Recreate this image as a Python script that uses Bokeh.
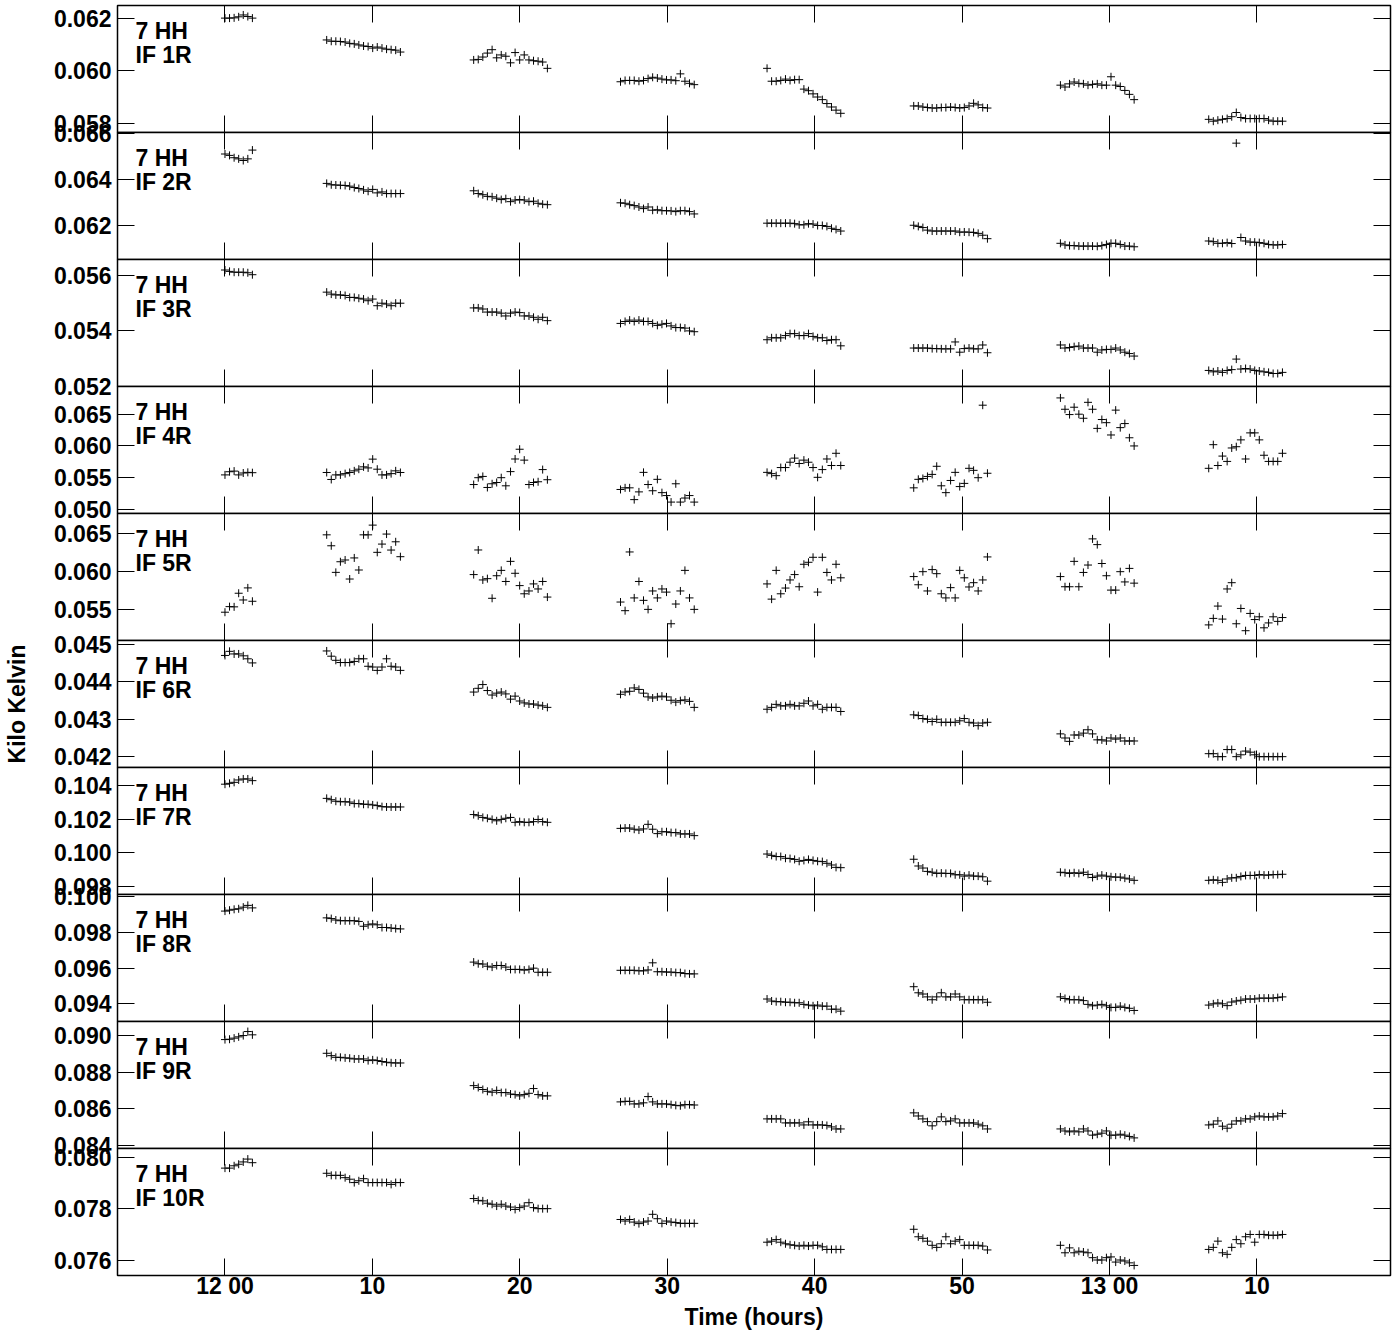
from bokeh.plotting import figure
from bokeh.models import Range1d, FixedTicker, PrintfTickFormatter, LinearAxis, Label
from bokeh.layouts import column
from bokeh.embed import file_html
from bokeh.resources import INLINE

# ---------------- data (time in minutes after 12:00) ----------------
SCAN1 = [0.00, 0.31, 0.62, 0.93, 1.24, 1.55, 1.86]
SCAN2 = [6.90, 7.21, 7.52, 7.83, 8.15, 8.46, 8.77, 9.08, 9.40, 9.71, 10.02, 10.33, 10.65, 10.96, 11.27, 11.58, 11.90]
SCAN3 = [16.87, 17.18, 17.49, 17.80, 18.12, 18.43, 18.74, 19.05, 19.37, 19.68, 19.99, 20.30, 20.62, 20.93, 21.24, 21.55, 21.87]
SCAN4 = [26.83, 27.14, 27.45, 27.76, 28.08, 28.39, 28.70, 29.01, 29.33, 29.64, 29.95, 30.26, 30.58, 30.89, 31.20, 31.51, 31.83]
SCAN5 = [36.77, 37.08, 37.39, 37.70, 38.02, 38.33, 38.64, 38.95, 39.27, 39.58, 39.89, 40.20, 40.52, 40.83, 41.14, 41.45, 41.77]
SCAN6 = [46.72, 47.03, 47.34, 47.65, 47.97, 48.28, 48.59, 48.90, 49.22, 49.53, 49.84, 50.15, 50.47, 50.78, 51.09, 51.40, 51.72]
SCAN7 = [56.67, 56.98, 57.29, 57.60, 57.92, 58.23, 58.54, 58.85, 59.17, 59.48, 59.79, 60.10, 60.42, 60.73, 61.04, 61.35, 61.67]
SCAN8 = [66.73, 67.04, 67.35, 67.66, 67.98, 68.29, 68.60, 68.91, 69.23, 69.54, 69.85, 70.16, 70.48, 70.79, 71.10, 71.41, 71.73]

IF1_R = [
    [0.06200, 0.06200, 0.06201, 0.06205, 0.06212, 0.06206, 0.06200],
    [0.06117, 0.06112, 0.06112, 0.06111, 0.06109, 0.06104, 0.06102, 0.06098, 0.06094, 0.06092, 0.06086, 0.06090, 0.06086, 0.06082, 0.06080, 0.06078, 0.06071],
    [0.06041, 0.06043, 0.06052, 0.06067, 0.06080, 0.06049, 0.06060, 0.06055, 0.06030, 0.06069, 0.06041, 0.06060, 0.06041, 0.06038, 0.06036, 0.06033, 0.06009],
    [0.05958, 0.05963, 0.05963, 0.05963, 0.05960, 0.05963, 0.05970, 0.05975, 0.05972, 0.05968, 0.05965, 0.05965, 0.05962, 0.05988, 0.05960, 0.05952, 0.05947],
    [0.06009, 0.05960, 0.05960, 0.05963, 0.05968, 0.05963, 0.05966, 0.05966, 0.05930, 0.05924, 0.05912, 0.05900, 0.05890, 0.05875, 0.05862, 0.05850, 0.05838],
    [0.05866, 0.05866, 0.05862, 0.05860, 0.05858, 0.05858, 0.05860, 0.05860, 0.05862, 0.05860, 0.05858, 0.05860, 0.05866, 0.05876, 0.05870, 0.05860, 0.05858],
    [0.05945, 0.05938, 0.05950, 0.05957, 0.05952, 0.05950, 0.05945, 0.05948, 0.05950, 0.05945, 0.05945, 0.05977, 0.05945, 0.05940, 0.05925, 0.05910, 0.05890],
    [0.05815, 0.05808, 0.05812, 0.05815, 0.05818, 0.05825, 0.05841, 0.05822, 0.05818, 0.05818, 0.05818, 0.05818, 0.05818, 0.05812, 0.05808, 0.05808, 0.05808],
]
IF2_R = [
    [0.06511, 0.06505, 0.06495, 0.06490, 0.06483, 0.06490, 0.06528],
    [0.06384, 0.06378, 0.06377, 0.06376, 0.06375, 0.06372, 0.06366, 0.06362, 0.06356, 0.06350, 0.06358, 0.06343, 0.06347, 0.06340, 0.06340, 0.06340, 0.06340],
    [0.06352, 0.06340, 0.06335, 0.06328, 0.06326, 0.06320, 0.06314, 0.06318, 0.06305, 0.06312, 0.06314, 0.06312, 0.06305, 0.06307, 0.06298, 0.06294, 0.06292],
    [0.06300, 0.06298, 0.06292, 0.06288, 0.06282, 0.06275, 0.06282, 0.06268, 0.06270, 0.06266, 0.06266, 0.06265, 0.06262, 0.06266, 0.06266, 0.06262, 0.06252],
    [0.06212, 0.06212, 0.06212, 0.06212, 0.06212, 0.06212, 0.06210, 0.06205, 0.06205, 0.06210, 0.06208, 0.06202, 0.06202, 0.06198, 0.06190, 0.06185, 0.06178],
    [0.06203, 0.06198, 0.06193, 0.06182, 0.06178, 0.06178, 0.06178, 0.06178, 0.06178, 0.06178, 0.06173, 0.06174, 0.06173, 0.06172, 0.06168, 0.06160, 0.06145],
    [0.06125, 0.06118, 0.06115, 0.06115, 0.06113, 0.06113, 0.06113, 0.06113, 0.06112, 0.06115, 0.06120, 0.06125, 0.06125, 0.06120, 0.06113, 0.06113, 0.06110],
    [0.06135, 0.06132, 0.06125, 0.06125, 0.06128, 0.06124, 0.06558, 0.06150, 0.06135, 0.06130, 0.06130, 0.06128, 0.06125, 0.06120, 0.06118, 0.06118, 0.06120],
]
IF3_R = [
    [0.05620, 0.05615, 0.05612, 0.05612, 0.05612, 0.05610, 0.05603],
    [0.05540, 0.05533, 0.05530, 0.05530, 0.05528, 0.05521, 0.05521, 0.05518, 0.05515, 0.05509, 0.05515, 0.05491, 0.05500, 0.05497, 0.05491, 0.05500, 0.05500],
    [0.05483, 0.05483, 0.05479, 0.05468, 0.05468, 0.05468, 0.05464, 0.05454, 0.05464, 0.05468, 0.05466, 0.05454, 0.05454, 0.05449, 0.05442, 0.05449, 0.05437],
    [0.05427, 0.05434, 0.05439, 0.05434, 0.05439, 0.05434, 0.05434, 0.05427, 0.05420, 0.05424, 0.05427, 0.05418, 0.05412, 0.05412, 0.05410, 0.05400, 0.05397],
    [0.05368, 0.05375, 0.05375, 0.05375, 0.05383, 0.05390, 0.05390, 0.05383, 0.05383, 0.05390, 0.05380, 0.05375, 0.05375, 0.05365, 0.05368, 0.05368, 0.05346],
    [0.05338, 0.05338, 0.05338, 0.05338, 0.05336, 0.05336, 0.05335, 0.05335, 0.05335, 0.05360, 0.05323, 0.05336, 0.05338, 0.05335, 0.05335, 0.05349, 0.05321],
    [0.05349, 0.05338, 0.05340, 0.05343, 0.05345, 0.05338, 0.05338, 0.05338, 0.05323, 0.05331, 0.05333, 0.05333, 0.05338, 0.05331, 0.05323, 0.05318, 0.05309],
    [0.05257, 0.05252, 0.05255, 0.05250, 0.05257, 0.05260, 0.05298, 0.05262, 0.05264, 0.05262, 0.05257, 0.05255, 0.05252, 0.05250, 0.05246, 0.05246, 0.05250],
]
IF4_R = [
    [0.05540, 0.05590, 0.05600, 0.05540, 0.05570, 0.05580, 0.05575],
    [0.05578, 0.05468, 0.05540, 0.05540, 0.05560, 0.05578, 0.05604, 0.05630, 0.05667, 0.05650, 0.05789, 0.05630, 0.05540, 0.05540, 0.05560, 0.05604, 0.05578],
    [0.05388, 0.05496, 0.05516, 0.05342, 0.05400, 0.05420, 0.05496, 0.05368, 0.05592, 0.05791, 0.05945, 0.05773, 0.05388, 0.05420, 0.05432, 0.05624, 0.05464],
    [0.05310, 0.05336, 0.05336, 0.05150, 0.05272, 0.05580, 0.05388, 0.05290, 0.05470, 0.05260, 0.05214, 0.05111, 0.05400, 0.05111, 0.05175, 0.05214, 0.05111],
    [0.05580, 0.05560, 0.05528, 0.05656, 0.05656, 0.05740, 0.05805, 0.05720, 0.05773, 0.05740, 0.05656, 0.05502, 0.05624, 0.05791, 0.05688, 0.05881, 0.05688],
    [0.05336, 0.05470, 0.05484, 0.05516, 0.05548, 0.05676, 0.05368, 0.05260, 0.05452, 0.05580, 0.05356, 0.05406, 0.05644, 0.05612, 0.05496, 0.06640, 0.05566],
    [0.06755, 0.06576, 0.06492, 0.06608, 0.06498, 0.06434, 0.06685, 0.06576, 0.06274, 0.06414, 0.06364, 0.06170, 0.06562, 0.06286, 0.06350, 0.06126, 0.05997],
    [0.05644, 0.06017, 0.05688, 0.05837, 0.05753, 0.05965, 0.05985, 0.06093, 0.05791, 0.06203, 0.06203, 0.06093, 0.05850, 0.05753, 0.05753, 0.05753, 0.05881],
]
IF5_R = [
    [0.05470, 0.05543, 0.05540, 0.05718, 0.05630, 0.05788, 0.05613],
    [0.06482, 0.06339, 0.05991, 0.06130, 0.06153, 0.05904, 0.06180, 0.06022, 0.06482, 0.06482, 0.06609, 0.06253, 0.06361, 0.06492, 0.06283, 0.06391, 0.06196],
    [0.05962, 0.06284, 0.05892, 0.05909, 0.05652, 0.05947, 0.06017, 0.05872, 0.06135, 0.05979, 0.05818, 0.05711, 0.05748, 0.05840, 0.05774, 0.05872, 0.05668],
    [0.05603, 0.05490, 0.06258, 0.05657, 0.05872, 0.05625, 0.05507, 0.05748, 0.05657, 0.05774, 0.05733, 0.05319, 0.05577, 0.05748, 0.06017, 0.05657, 0.05507],
    [0.05840, 0.05641, 0.06017, 0.05711, 0.05786, 0.05892, 0.05962, 0.05803, 0.06097, 0.06123, 0.06188, 0.05733, 0.06188, 0.05990, 0.05892, 0.06097, 0.05920],
    [0.05936, 0.05829, 0.06000, 0.05748, 0.06027, 0.05974, 0.05711, 0.05657, 0.05791, 0.05657, 0.06017, 0.05920, 0.05800, 0.05856, 0.05748, 0.05892, 0.06193],
    [0.05936, 0.05803, 0.05803, 0.06135, 0.05803, 0.05990, 0.06087, 0.06429, 0.06354, 0.06107, 0.05947, 0.05759, 0.05759, 0.06000, 0.05866, 0.06043, 0.05850],
    [0.05304, 0.05389, 0.05550, 0.05380, 0.05774, 0.05856, 0.05319, 0.05519, 0.05228, 0.05454, 0.05374, 0.05410, 0.05266, 0.05330, 0.05410, 0.05350, 0.05400],
]
IF6_R = [
    [0.04471, 0.04482, 0.04475, 0.04475, 0.04470, 0.04462, 0.04451],
    [0.04483, 0.04469, 0.04458, 0.04452, 0.04452, 0.04452, 0.04455, 0.04462, 0.04462, 0.04442, 0.04440, 0.04431, 0.04440, 0.04462, 0.04442, 0.04440, 0.04431],
    [0.04373, 0.04383, 0.04393, 0.04377, 0.04365, 0.04370, 0.04373, 0.04368, 0.04354, 0.04362, 0.04349, 0.04344, 0.04341, 0.04341, 0.04338, 0.04336, 0.04332],
    [0.04367, 0.04373, 0.04375, 0.04384, 0.04380, 0.04370, 0.04360, 0.04357, 0.04360, 0.04362, 0.04360, 0.04351, 0.04346, 0.04350, 0.04352, 0.04348, 0.04332],
    [0.04327, 0.04332, 0.04340, 0.04336, 0.04336, 0.04340, 0.04336, 0.04336, 0.04343, 0.04349, 0.04336, 0.04340, 0.04327, 0.04332, 0.04332, 0.04332, 0.04321],
    [0.04312, 0.04310, 0.04302, 0.04300, 0.04294, 0.04300, 0.04292, 0.04292, 0.04292, 0.04292, 0.04296, 0.04302, 0.04292, 0.04290, 0.04283, 0.04290, 0.04292],
    [0.04261, 0.04250, 0.04241, 0.04258, 0.04258, 0.04263, 0.04272, 0.04261, 0.04245, 0.04245, 0.04242, 0.04250, 0.04247, 0.04250, 0.04242, 0.04242, 0.04242],
    [0.04208, 0.04208, 0.04200, 0.04200, 0.04219, 0.04219, 0.04200, 0.04205, 0.04215, 0.04212, 0.04205, 0.04200, 0.04200, 0.04200, 0.04200, 0.04200, 0.04200],
]
IF7_R = [
    [0.10407, 0.10412, 0.10418, 0.10432, 0.10438, 0.10438, 0.10428],
    [0.10323, 0.10315, 0.10306, 0.10303, 0.10303, 0.10301, 0.10292, 0.10292, 0.10288, 0.10288, 0.10284, 0.10280, 0.10274, 0.10272, 0.10272, 0.10272, 0.10272],
    [0.10227, 0.10220, 0.10210, 0.10205, 0.10198, 0.10190, 0.10198, 0.10205, 0.10210, 0.10181, 0.10185, 0.10181, 0.10181, 0.10185, 0.10198, 0.10185, 0.10181],
    [0.10145, 0.10147, 0.10147, 0.10140, 0.10135, 0.10142, 0.10169, 0.10140, 0.10114, 0.10125, 0.10125, 0.10120, 0.10120, 0.10112, 0.10112, 0.10112, 0.10102],
    [0.09993, 0.09985, 0.09978, 0.09978, 0.09968, 0.09966, 0.09961, 0.09950, 0.09955, 0.09961, 0.09955, 0.09950, 0.09948, 0.09938, 0.09928, 0.09914, 0.09912],
    [0.09962, 0.09922, 0.09910, 0.09890, 0.09885, 0.09878, 0.09880, 0.09878, 0.09878, 0.09870, 0.09870, 0.09862, 0.09868, 0.09862, 0.09862, 0.09858, 0.09832],
    [0.09885, 0.09882, 0.09878, 0.09882, 0.09878, 0.09885, 0.09872, 0.09854, 0.09862, 0.09868, 0.09862, 0.09858, 0.09856, 0.09856, 0.09850, 0.09845, 0.09837],
    [0.09837, 0.09840, 0.09837, 0.09825, 0.09845, 0.09852, 0.09852, 0.09860, 0.09866, 0.09866, 0.09866, 0.09871, 0.09868, 0.09868, 0.09871, 0.09871, 0.09873],
]
IF8_R = [
    [0.09920, 0.09925, 0.09930, 0.09933, 0.09942, 0.09952, 0.09938],
    [0.09882, 0.09878, 0.09870, 0.09866, 0.09866, 0.09866, 0.09866, 0.09862, 0.09835, 0.09843, 0.09848, 0.09843, 0.09828, 0.09828, 0.09825, 0.09822, 0.09820],
    [0.09634, 0.09625, 0.09623, 0.09611, 0.09606, 0.09615, 0.09615, 0.09606, 0.09593, 0.09593, 0.09593, 0.09589, 0.09593, 0.09600, 0.09577, 0.09577, 0.09577],
    [0.09588, 0.09588, 0.09588, 0.09588, 0.09585, 0.09585, 0.09590, 0.09630, 0.09580, 0.09580, 0.09578, 0.09578, 0.09575, 0.09575, 0.09570, 0.09568, 0.09568],
    [0.09427, 0.09416, 0.09412, 0.09412, 0.09409, 0.09409, 0.09406, 0.09406, 0.09397, 0.09393, 0.09389, 0.09393, 0.09387, 0.09387, 0.09370, 0.09370, 0.09359],
    [0.09496, 0.09462, 0.09455, 0.09439, 0.09423, 0.09439, 0.09462, 0.09439, 0.09439, 0.09455, 0.09439, 0.09423, 0.09423, 0.09423, 0.09423, 0.09423, 0.09409],
    [0.09439, 0.09430, 0.09423, 0.09423, 0.09423, 0.09418, 0.09397, 0.09389, 0.09393, 0.09397, 0.09389, 0.09380, 0.09380, 0.09387, 0.09380, 0.09375, 0.09363],
    [0.09393, 0.09400, 0.09405, 0.09400, 0.09390, 0.09410, 0.09416, 0.09420, 0.09427, 0.09427, 0.09427, 0.09432, 0.09432, 0.09432, 0.09432, 0.09435, 0.09439],
]
IF9_R = [
    [0.08978, 0.08980, 0.08986, 0.08993, 0.09000, 0.09022, 0.09004],
    [0.08903, 0.08890, 0.08881, 0.08881, 0.08878, 0.08876, 0.08872, 0.08872, 0.08872, 0.08863, 0.08867, 0.08863, 0.08858, 0.08854, 0.08851, 0.08850, 0.08850],
    [0.08726, 0.08716, 0.08705, 0.08695, 0.08690, 0.08700, 0.08688, 0.08688, 0.08680, 0.08677, 0.08670, 0.08677, 0.08684, 0.08710, 0.08677, 0.08670, 0.08670],
    [0.08637, 0.08640, 0.08640, 0.08626, 0.08626, 0.08632, 0.08666, 0.08637, 0.08626, 0.08626, 0.08626, 0.08622, 0.08618, 0.08616, 0.08622, 0.08622, 0.08620],
    [0.08544, 0.08544, 0.08544, 0.08544, 0.08522, 0.08522, 0.08522, 0.08522, 0.08511, 0.08528, 0.08511, 0.08511, 0.08511, 0.08508, 0.08500, 0.08489, 0.08489],
    [0.08577, 0.08560, 0.08544, 0.08529, 0.08506, 0.08529, 0.08555, 0.08529, 0.08533, 0.08544, 0.08522, 0.08522, 0.08522, 0.08522, 0.08515, 0.08506, 0.08489],
    [0.08489, 0.08478, 0.08473, 0.08478, 0.08473, 0.08489, 0.08478, 0.08455, 0.08460, 0.08466, 0.08478, 0.08455, 0.08455, 0.08460, 0.08455, 0.08448, 0.08440],
    [0.08511, 0.08515, 0.08533, 0.08504, 0.08493, 0.08515, 0.08533, 0.08533, 0.08544, 0.08544, 0.08555, 0.08560, 0.08555, 0.08555, 0.08555, 0.08560, 0.08573],
]
IF10_R = [
    [0.07957, 0.07957, 0.07966, 0.07972, 0.07981, 0.07992, 0.07978],
    [0.07937, 0.07929, 0.07929, 0.07929, 0.07920, 0.07914, 0.07901, 0.07908, 0.07916, 0.07901, 0.07901, 0.07901, 0.07901, 0.07901, 0.07894, 0.07901, 0.07901],
    [0.07839, 0.07832, 0.07830, 0.07821, 0.07817, 0.07810, 0.07817, 0.07810, 0.07806, 0.07797, 0.07804, 0.07810, 0.07823, 0.07804, 0.07800, 0.07800, 0.07800],
    [0.07758, 0.07752, 0.07758, 0.07748, 0.07742, 0.07748, 0.07752, 0.07778, 0.07761, 0.07743, 0.07752, 0.07748, 0.07746, 0.07743, 0.07743, 0.07743, 0.07743],
    [0.07670, 0.07674, 0.07680, 0.07670, 0.07664, 0.07660, 0.07658, 0.07655, 0.07658, 0.07655, 0.07658, 0.07658, 0.07652, 0.07642, 0.07642, 0.07642, 0.07642],
    [0.07720, 0.07691, 0.07685, 0.07674, 0.07658, 0.07650, 0.07664, 0.07691, 0.07664, 0.07674, 0.07680, 0.07658, 0.07658, 0.07658, 0.07658, 0.07655, 0.07640],
    [0.07658, 0.07629, 0.07648, 0.07629, 0.07635, 0.07632, 0.07629, 0.07610, 0.07601, 0.07601, 0.07610, 0.07613, 0.07593, 0.07601, 0.07597, 0.07590, 0.07580],
    [0.07642, 0.07650, 0.07674, 0.07629, 0.07623, 0.07650, 0.07680, 0.07664, 0.07691, 0.07700, 0.07670, 0.07700, 0.07700, 0.07697, 0.07697, 0.07697, 0.07700],
]

X_TICKS = [0, 10, 20, 30, 40, 50, 60, 70]
X_TICK_LABELS = ["12 00", "10", "20", "30", "40", "50", "13 00", "10"]

Y_LIMITS = [
    (0.05765, 0.06248), (0.06055, 0.06604), (0.05199, 0.05658), (0.04931, 0.06935),
    (0.05100, 0.06761), (0.04171, 0.04511), (0.09753, 0.10506), (0.09301, 0.10013),
    (0.08382, 0.09077), (0.07541, 0.08033),
]
Y_TICKS = [
    [0.058, 0.060, 0.062], [0.062, 0.064, 0.066], [0.052, 0.054, 0.056],
    [0.050, 0.055, 0.060, 0.065], [0.055, 0.060, 0.065], [0.042, 0.043, 0.044, 0.045],
    [0.098, 0.100, 0.102, 0.104], [0.094, 0.096, 0.098, 0.100], [0.084, 0.086, 0.088, 0.090],
    [0.076, 0.078, 0.080],
]
SOURCE_LABEL = "7 HH"
IF_LABELS = ["IF 1R", "IF 2R", "IF 3R", "IF 4R", "IF 5R", "IF 6R", "IF 7R", "IF 8R", "IF 9R", "IF 10R"]
SERIES = [IF1_R, IF2_R, IF3_R, IF4_R, IF5_R, IF6_R, IF7_R, IF8_R, IF9_R, IF10_R]
SCANS = [SCAN1, SCAN2, SCAN3, SCAN4, SCAN5, SCAN6, SCAN7, SCAN8]

# ---------------- drawing ----------------
FONT = "Liberation Sans"
FS = "23px"
FRAME_H = 127
GAP = 14          # transparent border above/below each panel, overlapped by its neighbour
x_range = Range1d(-7.29, 79.06)


def style_axis(ax, show):
    ax.major_tick_in = 17
    ax.major_tick_out = 0
    ax.minor_tick_line_color = None
    ax.major_tick_line_color = "black"
    ax.major_tick_line_width = 1
    ax.axis_line_color = "black"
    ax.axis_line_width = 1
    ax.major_label_text_font = FONT
    ax.major_label_text_font_style = "bold"
    ax.major_label_text_color = "black"
    if show:
        ax.major_label_text_font_size = FS
    else:
        ax.major_label_text_font_size = "0px"
        ax.major_label_standoff = 0


figs = []
n = len(SERIES)
for i in range(n):
    first = i == 0
    last = i == n - 1
    p = figure(frame_width=1273, frame_height=FRAME_H, x_range=x_range,
               y_range=Range1d(*Y_LIMITS[i]), output_backend="svg",
               toolbar_location=None, x_axis_location=None, y_axis_location=None,
               min_border_left=117, min_border_right=2,
               min_border_top=5 if first else GAP,
               min_border_bottom=0 if last else GAP,
               background_fill_color="white", border_fill_color=None)
    if not first:
        p.styles = {"margin-top": f"-{2 * GAP}px"}
    p.outline_line_color = "black"
    p.outline_line_width = 1.5
    p.xgrid.visible = False
    p.ygrid.visible = False

    left = LinearAxis(ticker=FixedTicker(ticks=Y_TICKS[i]),
                      formatter=PrintfTickFormatter(format="%.3f"))
    style_axis(left, True)
    left.major_label_standoff = 6
    if i == 5:
        left.axis_label = "Kilo Kelvin"
        left.axis_label_text_font = FONT
        left.axis_label_text_font_style = "bold"
        left.axis_label_text_font_size = FS
        left.axis_label_text_color = "black"
        left.axis_label_standoff = 21
    p.add_layout(left, "left")

    right = LinearAxis(ticker=FixedTicker(ticks=Y_TICKS[i]),
                       major_label_overrides={t: "" for t in Y_TICKS[i]})
    style_axis(right, False)
    p.add_layout(right, "right")

    above = LinearAxis(ticker=FixedTicker(ticks=X_TICKS),
                       major_label_overrides={t: "" for t in X_TICKS})
    style_axis(above, False)
    p.add_layout(above, "above")

    if last:
        below = LinearAxis(ticker=FixedTicker(ticks=X_TICKS),
                           major_label_overrides=dict(zip(X_TICKS, X_TICK_LABELS)))
        style_axis(below, True)
        below.major_label_standoff = -3
        below.axis_label = "Time (hours)"
        below.axis_label_text_font = FONT
        below.axis_label_text_font_style = "bold"
        below.axis_label_text_font_size = FS
        below.axis_label_text_color = "black"
        below.axis_label_standoff = 2
    else:
        below = LinearAxis(ticker=FixedTicker(ticks=X_TICKS),
                           major_label_overrides={t: "" for t in X_TICKS})
        style_axis(below, False)
    p.add_layout(below, "below")

    xs, ys = [], []
    for scan, vals in zip(SCANS, SERIES[i]):
        xs.extend(scan)
        ys.extend(vals)
    p.scatter(xs, ys, marker="cross", size=8, line_color="black", line_width=1)

    for txt, dy in ((SOURCE_LABEL, 12), (IF_LABELS[i], 36)):
        p.add_layout(Label(x=18, y=FRAME_H - dy, x_units="screen", y_units="screen",
                           text=txt, text_baseline="top", text_align="left",
                           text_font=FONT, text_font_style="bold",
                           text_font_size=FS, text_color="black"))
    figs.append(p)

layout = column(*figs, spacing=0)
open("out.html", "w").write(file_html(layout, INLINE))
